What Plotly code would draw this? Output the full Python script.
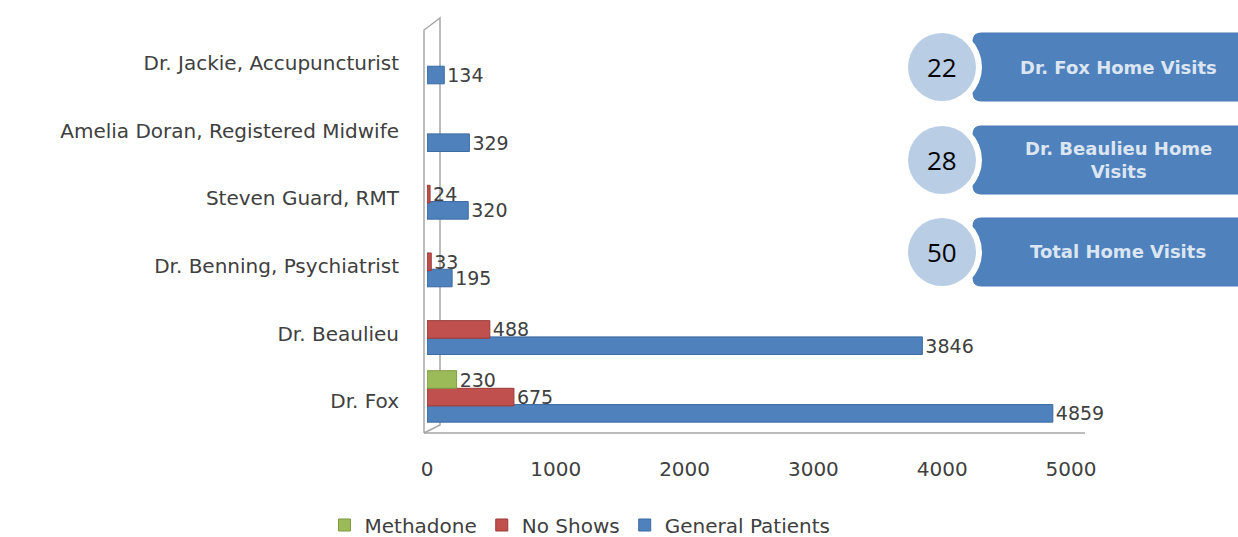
import plotly.graph_objects as go

# ---- data ----
categories = ["Dr. Fox", "Dr. Beaulieu", "Dr. Benning, Psychiatrist", "Steven Guard, RMT",
              "Amelia Doran, Registered Midwife", "Dr. Jackie, Accupuncturist"]
general_patients = [4859, 3846, 195, 320, 329, 134]
no_shows = [675, 488, 33, 24, 0, 0]
methadone = [230, 0, 0, 0, 0, 0]
x_ticks = [0, 1000, 2000, 3000, 4000, 5000]

visit_numbers = ["22", "28", "50"]
visit_labels = ["Dr. Fox Home Visits", "Dr. Beaulieu Home<br>Visits", "Total Home Visits"]

# ---- layout geometry (pixels) ----
W, H = 1238, 537
L, R, T, B = 427, 167, 29, 102
PW, PH = W - L - R, H - T - B


def px(x):
    return (x - L) / PW


def py(y):
    return (H - B - y) / PH


FONT = "DejaVu Sans"
TXT = "#404040"

fig = go.Figure()
# (name, values, fill, edge, bar offset in category units)
series = [("General Patients", general_patients, "#4f81bd", "#3b6aa0", -0.31),
          ("No Shows", no_shows, "#c0504d", "#9c3a37", -0.07),
          ("Methadone", methadone, "#9bbb59", "#7d9a43", 0.19)]
BAR_W = 0.26
for name, vals, col, edge, off in series:
    fig.add_trace(go.Bar(
        y=categories, x=[v if v else None for v in vals], name=name, orientation="h",
        width=BAR_W, offset=off,
        marker=dict(color=col, line=dict(color=edge, width=1)),
        text=[str(v) if v else "" for v in vals],
        textposition="outside", cliponaxis=False, constraintext="none",
        textfont=dict(family=FONT, size=19, color=TXT),
    ))

shapes = []
wall = "#a6a6a6"
shapes.append(dict(type="path", xref="paper", yref="paper",
                   path=f"M {px(424)},{py(433)} L {px(424)},{py(30)} L {px(440)},{py(18)} L {px(440)},{py(425)} L {px(424)},{py(433)}",
                   line=dict(color=wall, width=1.5), layer="below"))
shapes.append(dict(type="line", xref="paper", yref="paper",
                   x0=px(424), x1=px(1085), y0=py(433), y1=py(433),
                   line=dict(color=wall, width=1.5), layer="below"))

box_tops = [33, 126, 218]
box_h = 68
for i, top in enumerate(box_tops):
    bot = top + box_h
    x0, x1 = 973, 1250
    r = 8
    path = (f"M {px(x0 + r)},{py(top)} L {px(x1)},{py(top)} L {px(x1)},{py(bot)} "
            f"L {px(x0 + r)},{py(bot)} Q {px(x0)},{py(bot)} {px(x0)},{py(bot - r)} "
            f"L {px(x0)},{py(top + r)} Q {px(x0)},{py(top)} {px(x0 + r)},{py(top)} Z")
    shapes.append(dict(type="path", xref="paper", yref="paper", path=path,
                       fillcolor="#4f81bd", line=dict(color="#4a7bb7", width=1), layer="above"))
    cx, cy = 942, top + box_h / 2
    for rad, colr in [(40, "white"), (34, "#b9cde5")]:
        shapes.append(dict(type="circle", xref="paper", yref="paper",
                           x0=px(cx - rad), x1=px(cx + rad), y0=py(cy + rad), y1=py(cy - rad),
                           fillcolor=colr, line=dict(width=0), layer="above"))

annotations = []
for i, top in enumerate(box_tops):
    cy = top + box_h / 2
    annotations.append(dict(xref="paper", yref="paper", x=px(942), y=py(cy),
                            xanchor="center", yanchor="middle",
                            text=visit_numbers[i], showarrow=False,
                            font=dict(family="Open Sans", size=26, color="black")))
    annotations.append(dict(xref="paper", yref="paper", x=px(1118), y=py(cy),
                            xanchor="center", yanchor="middle",
                            text="<b>" + visit_labels[i] + "</b>", showarrow=False,
                            font=dict(family=FONT, size=18, color="#dce6f2")))

fig.update_layout(
    width=W, height=H,
    margin=dict(l=L, r=R, t=T, b=B, autoexpand=False),
    barmode="overlay",
    plot_bgcolor="white", paper_bgcolor="white",
    shapes=shapes, annotations=annotations,
    legend=dict(orientation="h", traceorder="reversed", x=px(580), xanchor="center",
                y=py(525), yanchor="middle", tracegroupgap=0,
                font=dict(family=FONT, size=20, color=TXT), itemwidth=30),
    xaxis=dict(range=[0, 5000], tickvals=x_ticks, showgrid=False, zeroline=False,
               showline=False, ticks="", ticklabelstandoff=20,
               tickfont=dict(family=FONT, size=20, color=TXT)),
    yaxis=dict(showgrid=False, zeroline=False, showline=False, ticks="",
               ticklabelstandoff=27, categoryorder="array", categoryarray=categories,
               tickfont=dict(family=FONT, size=20, color=TXT)),
    showlegend=True,
)

fig.write_html("out.html", post_script="document.body.style.margin='0';",
               config={"displayModeBar": False})
